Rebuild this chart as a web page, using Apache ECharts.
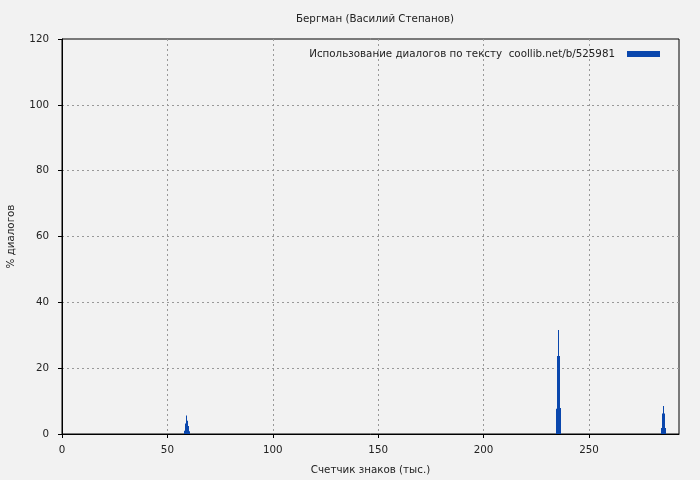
<!DOCTYPE html>
<html><head><meta charset="utf-8">
<script src="https://cdn.jsdelivr.net/npm/echarts@6/dist/echarts.min.js"></script>
<style>html,body{margin:0;padding:0;background:#f2f2f2}#c{width:700px;height:480px}</style>
</head><body><div id="c"></div>
<script>
const titleText = 'Бергман (Василий Степанов)';
const seriesName = 'Использование диалогов по тексту  coollib.net/b/525981';
const xAxisName = 'Счетчик знаков (тыс.)';
const yAxisName = '% диалогов';
const positions = [58, 58.5, 59, 59.5, 60, 60.5, 234.5, 235, 235.5, 236, 236.5, 284.5, 285, 285.5, 286, 286.5];
const values    = [1.0, 3.2, 5.6, 4.0, 2.4, 0.8, 7.7, 23.7, 31.6, 23.7, 7.9, 1.8, 6.2, 8.5, 6.2, 1.8];
const halfWidth = 0.25;

const data = positions.map((p, i) => [p, values[i]]);
const chart = echarts.init(document.getElementById('c'), null, {renderer: 'canvas'});
const font = 'DejaVu Sans';
const fs = 10.3;
chart.setOption({
  backgroundColor: '#f2f2f2',
  animation: false,
  textStyle: {fontFamily: font},
  title: {text: titleText, left: 370, top: 9, textAlign: 'center',
    textStyle: {fontSize: fs, fontWeight: 'normal', color: '#222', fontFamily: font}},
  legend: {right: 35, top: 44, itemWidth: 33, itemHeight: 6, itemGap: 0,
    textStyle: {fontSize: fs, color: '#222', fontFamily: font, padding: [0, 7, 0, 0]},
    align: 'right', data: [{name: seriesName, icon: 'rect'}]},
  grid: {left: 62, right: 21, top: 39, bottom: 46, show: true, borderColor: '#000', borderWidth: 1,
    backgroundColor: 'transparent', containLabel: false, outerBoundsMode: 'none'},
  xAxis: {type: 'value', min: 0, max: 292.7, interval: 50,
    name: xAxisName, nameLocation: 'middle', nameGap: 31,
    nameTextStyle: {fontSize: fs, color: '#222', fontFamily: font},
    axisLine: {lineStyle: {color: '#000'}},
    axisTick: {length: 4, lineStyle: {color: '#000'}},
    axisLabel: {fontSize: fs, color: '#222', margin: 11, showMaxLabel: false, fontFamily: font},
    splitLine: {show: true, showMinLine: false, showMaxLine: false, lineStyle: {color: '#999', type: [2, 3], width: 1}}},
  yAxis: {type: 'value', min: 0, max: 120, interval: 20,
    name: yAxisName, nameLocation: 'middle', nameGap: 46, nameRotate: 90,
    nameTextStyle: {fontSize: fs, color: '#222', fontFamily: font},
    axisLine: {show: true, lineStyle: {color: '#000'}},
    axisTick: {show: true, length: 4, lineStyle: {color: '#000'}},
    axisLabel: {fontSize: fs, color: '#222', margin: 13, fontFamily: font},
    splitLine: {show: true, showMinLine: false, showMaxLine: false, lineStyle: {color: '#999', type: [2, 3], width: 1}}},
  series: [{
    name: seriesName, type: 'custom', itemStyle: {color: '#0a47ad'},
    data: data,
    encode: {x: 0, y: 1},
    renderItem: function (params, api) {
      const x = api.value(0), v = api.value(1);
      const p0 = api.coord([x - halfWidth, v]);
      const p1 = api.coord([x + halfWidth, 0]);
      const xl = Math.round(p0[0]), xr = Math.max(Math.round(p1[0]), xl + 1);
      return {type: 'rect', shape: {x: xl, y: p0[1], width: xr - xl, height: p1[1] - p0[1]},
        style: {fill: '#0a47ad'}};
    }
  }]
});
</script></body></html>
